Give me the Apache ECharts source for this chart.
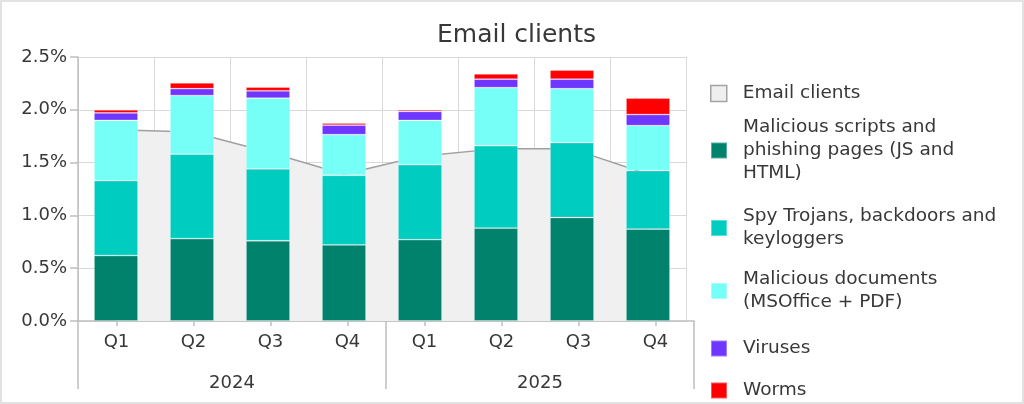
<!DOCTYPE html>
<html>
<head>
<meta charset="utf-8">
<script src="https://cdn.jsdelivr.net/npm/echarts@6/dist/echarts.min.js"></script>
<style>
  html, body { margin: 0; padding: 0; background: #fff; }
  #wrap { position: relative; width: 1024px; height: 404px; }
  #frame { position: absolute; left: 0; top: 0; width: 1024px; height: 404px; box-sizing: border-box; border: 2px solid #e2e2e2; }
  #chart { position: absolute; left: 0; top: 0; width: 1024px; height: 404px; }
</style>
</head>
<body>
<div id="wrap"><div id="frame"></div><div id="chart"></div></div>
<script>
// quarters on the inner axis, years on the outer one
const categories = ['2024 Q1', '2024 Q2', '2024 Q3', '2024 Q4', '2025 Q1', '2025 Q2', '2025 Q3', '2025 Q4'];
const quarterLabels = ['Q1', 'Q2', 'Q3', 'Q4', 'Q1', 'Q2', 'Q3', 'Q4'];
const years = ['2024', '2025'];
const yTicks = [0, 0.5, 1.0, 1.5, 2.0, 2.5];

// values in percent
const emailClients = [1.81, 1.79, 1.60, 1.39, 1.56, 1.63, 1.63, 1.39];
const scripts = [0.62, 0.78, 0.76, 0.72, 0.77, 0.88, 0.98, 0.87];
const spyTrojans = [0.71, 0.80, 0.68, 0.66, 0.71, 0.78, 0.71, 0.555];
const documents = [0.57, 0.555, 0.67, 0.385, 0.42, 0.55, 0.51, 0.425];
const viruses = [0.07, 0.065, 0.07, 0.09, 0.085, 0.08, 0.09, 0.105];
const worms = [0.03, 0.055, 0.035, 0.02, 0.015, 0.05, 0.085, 0.155];

const barNames = ['Malicious scripts and phishing pages (JS and HTML)', 'Spy Trojans, backdoors and keyloggers',
  'Malicious documents (MSOffice + PDF)', 'Viruses', 'Worms'];
const barData = [scripts, spyTrojans, documents, viruses, worms];
const barColors = ['#00826c', '#00ccc0', '#76fff6', '#6e36ff', '#ff0000'];
const legendText = {
  'Email clients': 'Email clients',
  'Malicious scripts and phishing pages (JS and HTML)': 'Malicious scripts and\nphishing pages (JS and\nHTML)',
  'Spy Trojans, backdoors and keyloggers': 'Spy Trojans, backdoors and\nkeyloggers',
  'Malicious documents (MSOffice + PDF)': 'Malicious documents\n(MSOffice + PDF)',
  'Viruses': 'Viruses',
  'Worms': 'Worms'
};
const legendTops = [82, 116, 205, 268, 337, 379];

const FONT = '"DejaVu Sans", sans-serif';
const TXT = '#383838';
const AXIS = '#bfbfbf';
const GRID = '#d9d9d9';

const chart = echarts.init(document.getElementById('chart'), null, { renderer: 'canvas' });

const legendNames = ['Email clients'].concat(barNames);
const legends = legendNames.map((name, i) => ({
  orient: 'vertical',
  left: 710,
  top: legendTops[i],
  padding: 0,
  icon: 'rect',
  itemWidth: 16,
  itemHeight: 16,
  selectedMode: false,
  data: [i === 0
    ? { name, itemStyle: { color: '#efefef', borderColor: '#a3a3a3', borderWidth: 1.5 } }
    : { name }],
  formatter: (n) => legendText[n],
  textStyle: { color: TXT, fontFamily: FONT, fontSize: 18.5, lineHeight: 23, padding: [0, 0, 0, 11] }
}));

const option = {
  animation: false,
  backgroundColor: 'transparent',
  textStyle: { fontFamily: FONT },
  title: {
    text: 'Email clients',
    left: 437,
    top: 23,
    padding: 0,
    textStyle: { color: TXT, fontFamily: FONT, fontSize: 25, fontWeight: 'normal' }
  },
  legend: legends,
  grid: [
    { left: 78, top: 57, width: 608, height: 264 },
    { left: 78, top: 57, width: 616, height: 264 }
  ],
  xAxis: [
    {
      type: 'category', gridIndex: 0, data: categories,
      axisLine: { show: false }, axisTick: { show: false }, axisLabel: { show: false },
      splitLine: { show: true, lineStyle: { color: GRID, width: 1 } }
    },
    {
      type: 'category', gridIndex: 1, data: quarterLabels, position: 'bottom',
      axisLine: { show: true, lineStyle: { color: AXIS, width: 1.5 } },
      axisTick: { show: true, alignWithLabel: true, length: 5, lineStyle: { color: AXIS, width: 1.5 } },
      axisLabel: { color: TXT, fontFamily: FONT, fontSize: 18, margin: 12, interval: 0 },
      splitLine: { show: false }
    },
    {
      type: 'category', gridIndex: 1, data: years, position: 'bottom',
      axisLine: { show: false },
      axisTick: { show: true, length: 68, interval: 0, lineStyle: { color: AXIS, width: 1.5 } },
      axisLabel: { color: TXT, fontFamily: FONT, fontSize: 18, margin: 53 },
      splitLine: { show: false }
    }
  ],
  yAxis: [
    {
      type: 'value', gridIndex: 0, min: yTicks[0], max: yTicks[yTicks.length - 1], interval: 0.5,
      axisLine: { show: true, lineStyle: { color: AXIS, width: 1.5 } },
      axisTick: { show: true, length: 8, lineStyle: { color: AXIS, width: 1.5 } },
      axisLabel: { color: TXT, fontFamily: FONT, fontSize: 18, margin: 11, formatter: (v) => v.toFixed(1) + '%' },
      splitLine: { show: true, lineStyle: { color: GRID, width: 1 } }
    },
    { type: 'value', gridIndex: 1, min: 0, max: 2.5, show: false }
  ],
  series: [
    {
      name: 'Email clients', type: 'line', xAxisIndex: 0, yAxisIndex: 0, data: emailClients,
      z: 1, symbol: 'none', silent: true,
      itemStyle: { color: '#efefef' },
      lineStyle: { color: '#a0a0a0', width: 1.5 },
      areaStyle: { color: '#f0f0f0', opacity: 1 }
    }
  ].concat(barNames.map((name, i) => ({
    name, type: 'bar', stack: 'total', xAxisIndex: 0, yAxisIndex: 0, data: barData[i],
    barWidth: 44, z: 3,
    itemStyle: { color: barColors[i], borderColor: 'rgba(255,255,255,0.35)', borderWidth: 0.8 }
  })))
};

chart.setOption(option);
</script>
</body>
</html>
